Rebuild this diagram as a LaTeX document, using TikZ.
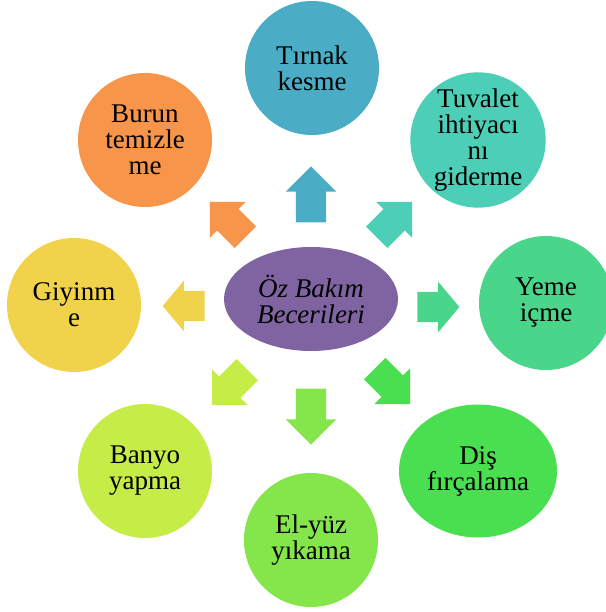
\documentclass[tikz,border=0pt]{standalone}
\usepackage{fontspec}
\setmainfont{Liberation Serif}
\usepackage{tikz}
\usetikzlibrary{shapes.geometric, shapes.arrows}
\definecolor{hubPurple}{RGB}{128, 100, 162}
\definecolor{cTirnak}{RGB}{75, 172, 198}
\definecolor{cTuvalet}{RGB}{76, 207, 182}
\definecolor{cYeme}{RGB}{74, 214, 138}
\definecolor{cDis}{RGB}{74, 223, 81}
\definecolor{cElyuz}{RGB}{132, 230, 74}
\definecolor{cBanyo}{RGB}{198, 236, 71}
\definecolor{cGiyinme}{RGB}{240, 211, 75}
\definecolor{cBurun}{RGB}{247, 150, 74}

\begin{document}
\begin{tikzpicture}[
  x=1pt, y=1pt,
  every node/.style={inner sep=0pt, align=center, font=\fontsize{27}{26}\selectfont},
  skill/.style={circle, minimum size=134pt},
  hub/.style={ellipse, fill=hubPurple, minimum width=174pt, minimum height=104pt,
              font=\fontsize{27}{26}\selectfont\itshape},
  blockarr/.style={single arrow, single arrow head extend=10pt,
                   inner xsep=0pt, inner ysep=15pt, minimum height=50pt},
  vertarr/.style={blockarr, minimum height=56pt},
  horzarr/.style={blockarr, minimum height=42pt, single arrow tip angle=100}
]
  \useasboundingbox (-311,-313) rectangle (294,299);

  % --- Centre ---
  \node[hub] (hub) at (0,0) {Öz Bakım\\Becerileri};

  % --- Skills round the centre ---
  \node[skill, fill=cTirnak]  (tirnak)  at (1,231)     {Tırnak\\kesme};
  \node[skill, fill=cTuvalet] (tuvalet) at (167,159)   {Tuvalet\\ihtiyacı\\nı\\giderme};
  \node[skill, fill=cYeme]    (yeme)    at (235,-4)    {Yeme\\içme};
  \node[skill, ellipse, fill=cDis, minimum width=158pt, minimum height=133pt]
                              (dis)     at (167,-172)  {Diş\\fırçalama};
  \node[skill, fill=cElyuz]   (elyuz)   at (0,-241)    {El-yüz\\yıkama};
  \node[skill, fill=cBanyo]   (banyo)   at (-166,-172) {Banyo\\yapma};
  \node[skill, fill=cGiyinme] (giyinme) at (-237,-6)   {Giyinm\\e};
  \node[skill, fill=cBurun]   (burun)   at (-166,159)  {Burun\\temizle\\me};

  % --- Block arrows pointing outwards ---
  \node[vertarr, fill=cTirnak,  rotate=90]   (aTirnak)  at (0,97)     {};
  \node[blockarr, fill=cTuvalet, rotate=45]  (aTuvalet) at (78,74)    {};
  \node[horzarr, fill=cYeme]                 (aYeme)    at (121,-8)   {};
  \node[blockarr, fill=cDis,    rotate=-45]  (aDis)     at (76,-82)   {};
  \node[vertarr, fill=cElyuz,   rotate=-90]  (aElyuz)   at (0,-110)   {};
  \node[blockarr, fill=cBanyo,  rotate=-135] (aBanyo)   at (-76,-83)  {};
  \node[horzarr, fill=cGiyinme, rotate=180]  (aGiyinme) at (-121,-7)  {};
  \node[blockarr, fill=cBurun,  rotate=135]  (aBurun)   at (-78,74)   {};
\end{tikzpicture}
\end{document}
